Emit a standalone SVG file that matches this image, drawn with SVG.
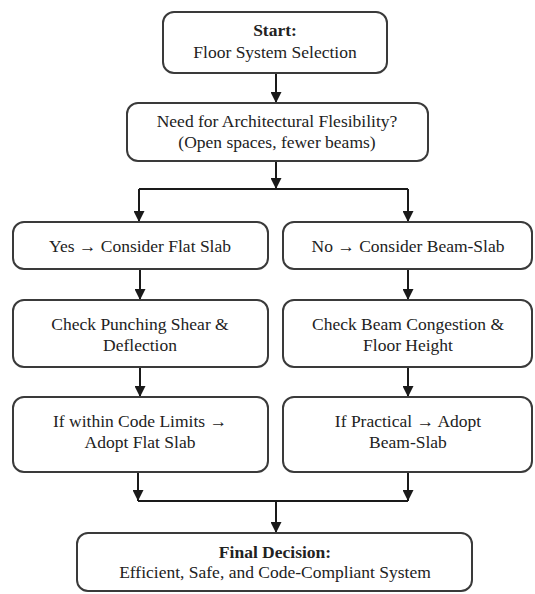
<svg xmlns="http://www.w3.org/2000/svg" width="535" height="594" viewBox="0 0 535 594">
<defs>
<marker id="ah" markerUnits="userSpaceOnUse" markerWidth="11" markerHeight="11" refX="11" refY="5.5" orient="auto">
<path d="M0,0 L11,5.5 L0,11 z" fill="#1a1a1a"/>
</marker>
<style>
.box{fill:#fff;stroke:#3a3a3a;stroke-width:2;}
.t{font-family:"Liberation Serif","Times New Roman",serif;font-size:17.5px;fill:#222;text-anchor:middle;}
.b{font-weight:bold;}
.c{fill:none;stroke:#1a1a1a;stroke-width:2;}
</style>
</defs>
<rect width="535" height="594" fill="#fff"/>
<g id="connectors">
<path class="c" d="M276,73 V103" marker-end="url(#ah)"/>
<path class="c" d="M276,161 V189" marker-end="url(#ah)"/>
<path class="c" d="M139,189 H408"/>
<path class="c" d="M139,189 V222" marker-end="url(#ah)"/>
<path class="c" d="M408,189 V222" marker-end="url(#ah)"/>
<path class="c" d="M140,269 V300" marker-end="url(#ah)"/>
<path class="c" d="M408,269 V300" marker-end="url(#ah)"/>
<path class="c" d="M140,367 V397" marker-end="url(#ah)"/>
<path class="c" d="M408,367 V397" marker-end="url(#ah)"/>
<path class="c" d="M138,472 V501" marker-end="url(#ah)"/>
<path class="c" d="M408,472 V501" marker-end="url(#ah)"/>
<path class="c" d="M138,501 H408"/>
<path class="c" d="M276,501 V533" marker-end="url(#ah)"/>
</g>
<g id="start">
<rect class="box" x="163" y="12" width="224" height="61" rx="11"/>
<text class="t b" x="275" y="36">Start:</text>
<text class="t" x="275" y="58">Floor System Selection</text>
</g>
<g id="need">
<rect class="box" x="127" y="103" width="301" height="58" rx="11"/>
<text class="t" x="277" y="127">Need for Architectural Flesibility?</text>
<text class="t" x="277" y="148">(Open spaces, fewer beams)</text>
</g>
<g id="yes">
<rect class="box" x="13" y="222" width="255" height="47" rx="11"/>
<text class="t" x="140" y="252">Yes → Consider Flat Slab</text>
</g>
<g id="no">
<rect class="box" x="283" y="222" width="249" height="47" rx="11"/>
<text class="t" x="408" y="252">No → Consider Beam-Slab</text>
</g>
<g id="punching">
<rect class="box" x="13" y="300" width="255" height="67" rx="11"/>
<text class="t" x="140" y="330">Check Punching Shear &amp;</text>
<text class="t" x="140" y="351">Deflection</text>
</g>
<g id="congestion">
<rect class="box" x="283" y="300" width="249" height="67" rx="11"/>
<text class="t" x="408" y="330">Check Beam Congestion &amp;</text>
<text class="t" x="408" y="351">Floor Height</text>
</g>
<g id="adopt-flat">
<rect class="box" x="13" y="397" width="255" height="75" rx="11"/>
<text class="t" x="140" y="427">If within Code Limits →</text>
<text class="t" x="140" y="448">Adopt Flat Slab</text>
</g>
<g id="adopt-beam">
<rect class="box" x="283" y="397" width="249" height="75" rx="11"/>
<text class="t" x="408" y="427">If Practical → Adopt</text>
<text class="t" x="408" y="448">Beam-Slab</text>
</g>
<g id="final">
<rect class="box" x="77" y="533" width="395" height="58" rx="11"/>
<text class="t b" x="275" y="558">Final Decision:</text>
<text class="t" x="275" y="578">Efficient, Safe, and Code-Compliant System</text>
</g>
</svg>
